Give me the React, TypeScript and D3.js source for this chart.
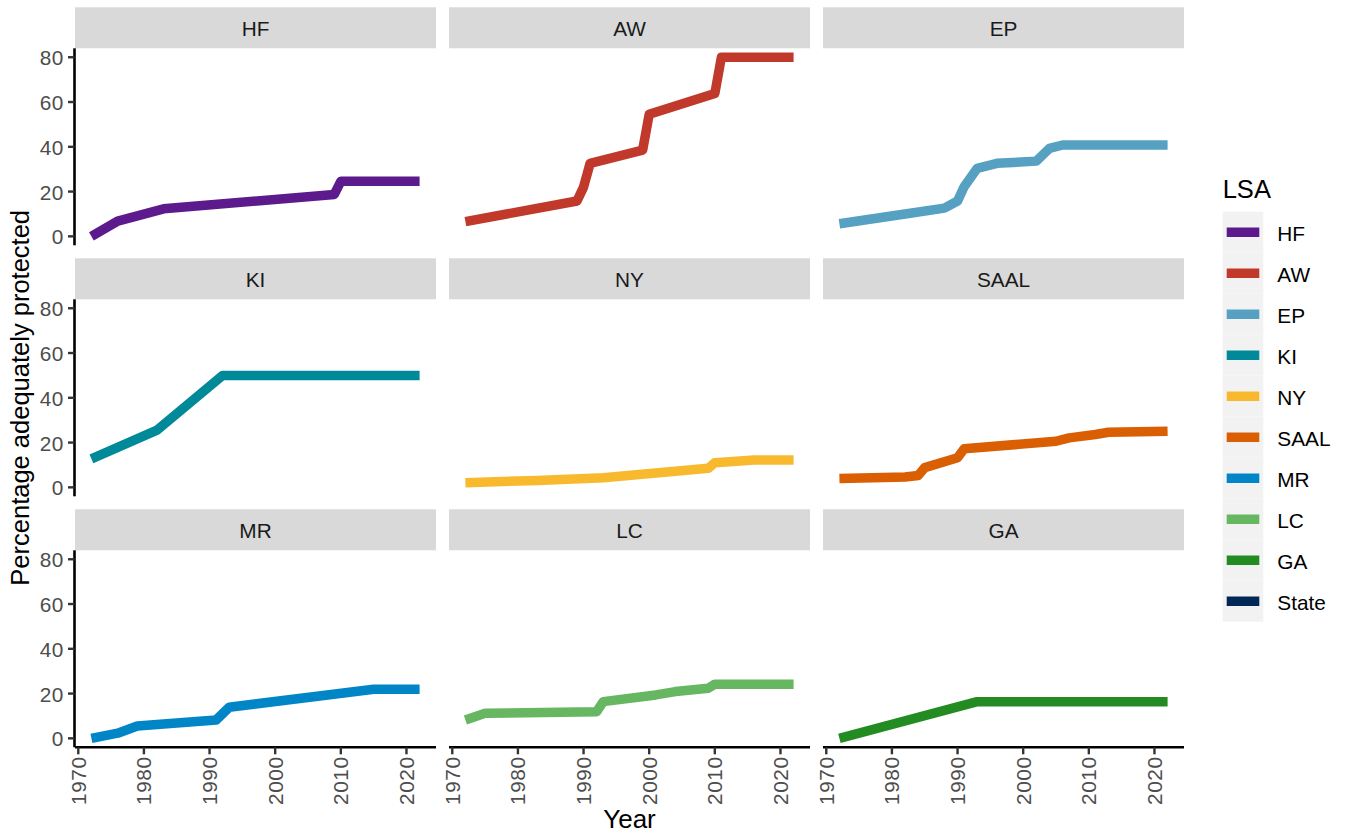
import React from "react";
import * as d3 from "d3";

// ---- data ----
const lsaNames = ["HF", "AW", "EP", "KI", "NY", "SAAL", "MR", "LC", "GA", "State"];
const lsaColors = ["#5C1A8C", "#C0392B", "#56A0C2", "#008A99", "#F9B92F", "#D95F02", "#0085C7", "#66B662", "#228B22", "#002855"];
const panelNames = ["HF", "AW", "EP", "KI", "NY", "SAAL", "MR", "LC", "GA"];

const hfYears = [1972, 1976, 1983, 2009, 2010, 2022];
const hfValues = [0, 6.8, 12.3, 18.7, 24.6, 24.6];
const awYears = [1972, 1989, 1990, 1991, 1999, 2000, 2010, 2011, 2022];
const awValues = [6.6, 15.8, 22, 32.6, 38.5, 54.5, 63.8, 80, 80];
const epYears = [1972, 1982, 1988, 1990, 1991, 1993, 1996, 2002, 2004, 2006, 2022];
const epValues = [5.6, 10.0, 12.6, 15.8, 22.2, 30.4, 32.6, 33.6, 39.3, 40.8, 40.8];
const kiYears = [1972, 1982, 1992, 2022];
const kiValues = [12.7, 25.6, 50, 50];
const nyYears = [1972, 1983, 1993, 2009, 2010, 2016, 2022];
const nyValues = [2.1, 3.1, 4.3, 8.5, 11, 12.2, 12.2];
const saalYears = [1972, 1982, 1984, 1985, 1990, 1991, 2005, 2007, 2011, 2013, 2022];
const saalValues = [3.9, 4.6, 5.3, 8.8, 13.2, 17.2, 20.6, 22.1, 23.6, 24.6, 25.1];
const mrYears = [1972, 1976, 1979, 1991, 1993, 2015, 2022];
const mrValues = [0, 2.3, 5.5, 8.2, 13.9, 21.9, 21.9];
const lcYears = [1972, 1975, 1992, 1993, 2001, 2004, 2009, 2010, 2022];
const lcValues = [8.2, 11.2, 11.9, 16.4, 19.4, 20.9, 22.4, 24.2, 24.2];
const gaYears = [1972, 1993, 2022];
const gaValues = [0, 16.4, 16.4];

const seriesYears = [hfYears, awYears, epYears, kiYears, nyYears, saalYears, mrYears, lcYears, gaYears];
const seriesValues = [hfValues, awValues, epValues, kiValues, nyValues, saalValues, mrValues, lcValues, gaValues];

const xTicks = [1970, 1980, 1990, 2000, 2010, 2020];
const yTicks = [0, 20, 40, 60, 80];

const xTitle = "Year";
const yTitle = "Percentage adequately protected";
const legendTitle = "LSA";

// ---- layout ----
const W = 1345;
const H = 836;
const colLeft = [75, 449, 823];
const panelW = 361;
const rowTop = [7.3, 258.3, 509.3];
const stripH = 41;
const panelH = 197;
const FONT = "'Liberation Sans', Arial, sans-serif";
const SMALL = 20.8;

export default function App() {
  const x = d3.scaleLinear().domain([1969.5, 2024.5]).range([0, panelW]);
  const y = d3.scaleLinear().domain([-4, 84]).range([panelH, 0]);
  const line = d3
    .line<[number, number]>()
    .x((d) => x(d[0]))
    .y((d) => y(d[1]));

  const panels = panelNames.map((name, i) => {
    const c = i % 3;
    const r = Math.floor(i / 3);
    const px = colLeft[c];
    const sy = rowTop[r];
    const py = sy + stripH;
    const pts: [number, number][] = seriesYears[i].map((yr, k) => [yr, seriesValues[i][k]]);
    const color = lsaColors[lsaNames.indexOf(name)];
    return (
      <g key={name}>
        <rect x={px} y={sy} width={panelW} height={stripH} fill="#D9D9D9" />
        <text
          x={px + panelW / 2}
          y={sy + stripH / 2 + 0.5}
          textAnchor="middle"
          dominantBaseline="central"
          fontSize={SMALL}
          fill="#1A1A1A"
          fontFamily={FONT}
        >
          {name}
        </text>
        <g transform={`translate(${px},${py})`}>
          <path
            d={line(pts) || ""}
            fill="none"
            stroke={color}
            strokeWidth={9.5}
            strokeLinejoin="round"
            strokeLinecap="butt"
          />
          {c === 0 && (
            <g>
              <line x1={-0.5} x2={-0.5} y1={0} y2={panelH} stroke="#000" strokeWidth={2.6} />
              {yTicks.map((t) => (
                <g key={t}>
                  <line x1={-7} x2={-0.5} y1={y(t)} y2={y(t)} stroke="#333333" strokeWidth={2.4} />
                  <text
                    x={-11}
                    y={y(t) + 0.5}
                    textAnchor="end"
                    dominantBaseline="central"
                    fontSize={SMALL}
                    fill="#4D4D4D"
                    fontFamily={FONT}
                    letterSpacing={0.6}
                  >
                    {t}
                  </text>
                </g>
              ))}
            </g>
          )}
          {r === 2 && (
            <g>
              <line x1={0} x2={panelW} y1={panelH} y2={panelH} stroke="#000" strokeWidth={2.6} />
              {xTicks.map((t) => (
                <g key={t}>
                  <line x1={x(t)} x2={x(t)} y1={panelH} y2={panelH + 7} stroke="#333333" strokeWidth={2.4} />
                  <text
                    transform={`translate(${x(t)},${panelH + 9}) rotate(-90)`}
                    textAnchor="end"
                    dominantBaseline="central"
                    fontSize={SMALL}
                    fill="#4D4D4D"
                    fontFamily={FONT}
                    letterSpacing={0.6}
                  >
                    {t}
                  </text>
                </g>
              ))}
            </g>
          )}
        </g>
      </g>
    );
  });

  const legX = 1222.7;
  const legTop = 211.7;
  const keyH = 41;
  const keyW = 40.6;

  return (
    <svg
      width={W}
      height={H}
      style={{ position: "absolute", left: 0, top: 0, background: "#fff" }}
      xmlns="http://www.w3.org/2000/svg"
    >
      <rect x={0} y={0} width={W} height={H} fill="#fff" />
      {panels}
      <text
        x={(colLeft[0] + colLeft[2] + panelW) / 2}
        y={828}
        textAnchor="middle"
        fontSize={26}
        fill="#000"
        fontFamily={FONT}
      >
        {xTitle}
      </text>
      <text
        transform={`translate(29,${(rowTop[0] + stripH + rowTop[2] + stripH + panelH) / 2}) rotate(-90)`}
        textAnchor="middle"
        fontSize={25.5}
        fill="#000"
        fontFamily={FONT}
      >
        {yTitle}
      </text>
      <text x={legX} y={198} fontSize={25.5} fill="#000" fontFamily={FONT}>
        {legendTitle}
      </text>
      {lsaNames.map((n, i) => {
        const cy = legTop + i * keyH + keyH / 2;
        return (
          <g key={n}>
            <rect x={legX} y={legTop + i * keyH} width={keyW} height={keyH} fill="#F2F2F2" />
            <line x1={legX + 4} x2={legX + keyW - 4} y1={cy} y2={cy} stroke={lsaColors[i]} strokeWidth={9.5} />
            <text
              x={1277.3}
              y={cy + 1.5}
              dominantBaseline="central"
              fontSize={SMALL}
              fill="#000"
              fontFamily={FONT}
            >
              {n}
            </text>
          </g>
        );
      })}
    </svg>
  );
}
